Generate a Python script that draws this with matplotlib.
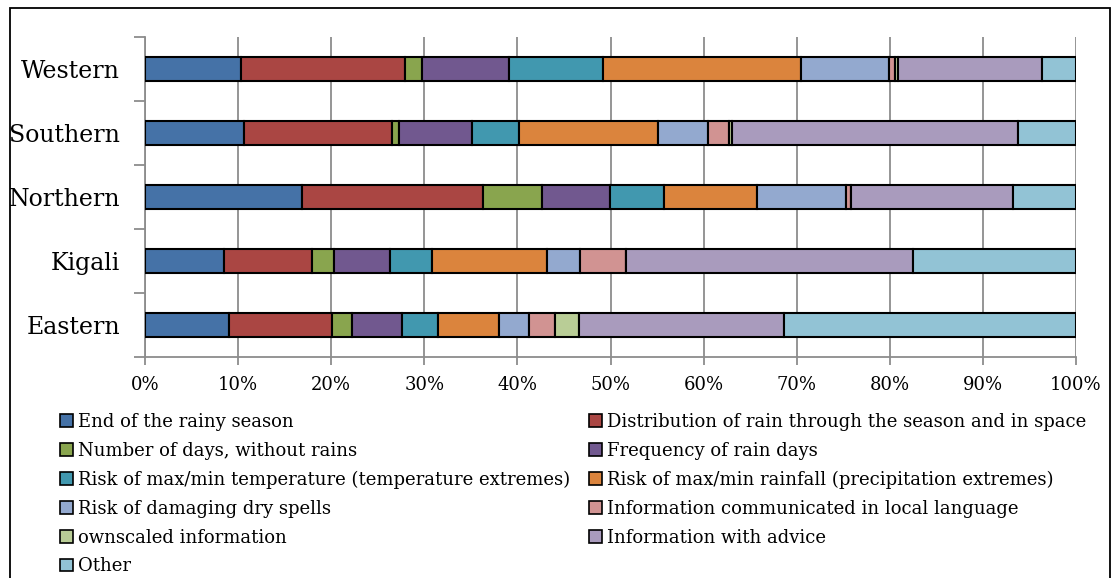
import matplotlib
matplotlib.use("Agg")
import matplotlib.pyplot as plt
from matplotlib.patches import Patch, Rectangle
import numpy as np

regions = ["Eastern", "Kigali", "Northern", "Southern", "Western"]

series = [
    "End of the rainy season",
    "Distribution of rain through the season and in space",
    "Number of days, without rains",
    "Frequency of rain days",
    "Risk of max/min temperature (temperature extremes)",
    "Risk of max/min rainfall (precipitation extremes)",
    "Risk of damaging dry spells",
    "Information communicated in local language",
    "ownscaled information",
    "Information with advice",
    "Other",
]

# shares (%) per region, ordered as in `regions`
end_of_season   = [9.0, 8.5, 16.9, 10.6, 10.3]
distribution    = [11.1, 9.4, 19.4, 15.9, 17.6]
days_no_rain    = [2.1, 2.4, 6.3, 0.8, 1.8]
rain_frequency  = [5.4, 6.0, 7.3, 7.8, 9.4]
temp_extremes   = [3.9, 4.5, 5.8, 5.1, 10.1]
rain_extremes   = [6.5, 12.4, 10.0, 14.9, 21.3]
dry_spells      = [3.2, 3.5, 9.6, 5.4, 9.4]
local_language  = [2.8, 5.0, 0.5, 2.2, 0.7]
downscaled      = [2.6, 0.0, 0.0, 0.4, 0.3]
with_advice     = [22.0, 30.8, 17.4, 30.7, 15.4]
other           = [31.4, 17.5, 6.8, 6.2, 3.7]

values = [end_of_season, distribution, days_no_rain, rain_frequency,
          temp_extremes, rain_extremes, dry_spells, local_language,
          downscaled, with_advice, other]

colors = ["#4572A7", "#AA4643", "#89A54E", "#71588F", "#4198AF", "#DB843D",
          "#93A9CF", "#D19392", "#B9CD96", "#A99BBD", "#92C3D5"]

plt.rcParams["font.family"] = ["DejaVu Serif"]

W, H = 1113, 578
fig = plt.figure(figsize=(W / 100, H / 100), dpi=100)
ax = fig.add_axes([145 / W, 1 - 357 / H, (1076 - 145) / W, (357 - 37) / H])

y = np.arange(len(regions))
totals = np.array([sum(s[i] for s in values) for i in range(len(regions))])
left = np.zeros(len(regions))
for vals, col in zip(values, colors):
    v = np.array(vals, dtype=float) / totals * 100
    ax.barh(y, v, left=left, height=0.39, color=col, edgecolor="black",
            linewidth=1.5, zorder=3)
    left += v

ax.set_xlim(0, 100)
ax.set_ylim(-0.5, len(regions) - 0.5)
ax.set_xticks(np.arange(0, 101, 10))
ax.set_xticklabels([f"{t}%" for t in range(0, 101, 10)], fontsize=13)
ax.xaxis.grid(True, color="#8c8c8c", linewidth=1.3, zorder=0)
ax.set_yticks(y)
ax.set_yticklabels(regions, fontsize=17)
ax.set_yticks(np.arange(-0.5, len(regions), 1), minor=True)
ax.tick_params(axis="y", which="major", length=0, pad=18)
ax.tick_params(axis="y", which="minor", length=8, color="#8c8c8c", width=1.3)
ax.tick_params(axis="x", length=6, color="#8c8c8c", width=1.3, pad=8)
for s in ["top", "right"]:
    ax.spines[s].set_visible(False)
for s in ["left", "bottom"]:
    ax.spines[s].set_color("#8c8c8c")
    ax.spines[s].set_linewidth(1.3)

handles = [Patch(facecolor=c, edgecolor="black", linewidth=1.2) for c in colors]
left_idx = list(range(0, len(series), 2))
right_idx = list(range(1, len(series), 2))

leg_kw = dict(frameon=False, fontsize=13, handlelength=0.7, handleheight=0.7,
              handletextpad=0.3, labelspacing=0.6, borderaxespad=0, borderpad=0)
leg1 = fig.legend([handles[i] for i in left_idx], [series[i] for i in left_idx],
                  loc="upper left", bbox_to_anchor=(60 / W, 1 - 413 / H), **leg_kw)
leg2 = fig.legend([handles[i] for i in right_idx], [series[i] for i in right_idx],
                  loc="upper left", bbox_to_anchor=(589 / W, 1 - 413 / H), **leg_kw)

# outer frame of the chart area
fig.patches.append(Rectangle((10 / W, -0.05), (1110 - 10) / W, 1.05 - 8 / H,
                             transform=fig.transFigure, fill=False,
                             edgecolor="black", linewidth=1.3))

fig.savefig("out.png", dpi=100)
